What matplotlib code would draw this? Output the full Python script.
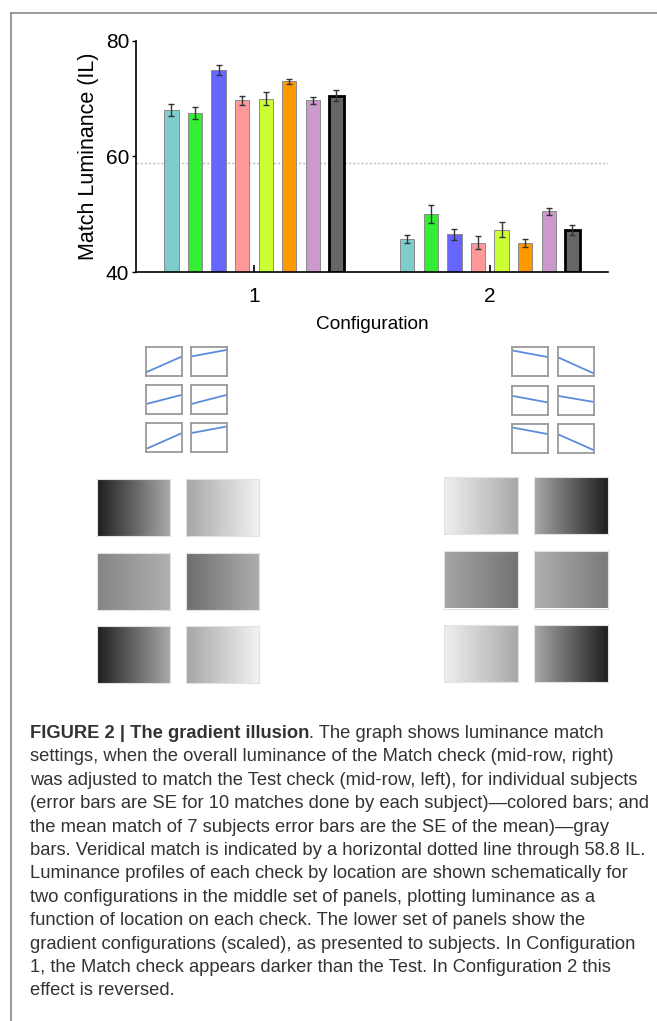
import numpy as np
import matplotlib
matplotlib.use("Agg")
import matplotlib.pyplot as plt
from matplotlib.lines import Line2D

plt.rcParams["font.family"] = ["Liberation Sans", "DejaVu Sans"]

# ---------- data ----------
groups = ["1", "2"]
bar_colors = ["#7ecccc", "#33ee33", "#6666ff", "#ff9999",
              "#ccff33", "#ff9900", "#cc99cc", "#666666"]
cfg1_vals = [68.0, 67.5, 74.9, 69.7, 70.0, 73.0, 69.7, 70.5]
cfg1_err = [1.1, 1.0, 0.9, 0.75, 1.05, 0.45, 0.6, 0.9]
cfg2_vals = [45.7, 50.0, 46.5, 45.1, 47.3, 45.0, 50.5, 47.3]
cfg2_err = [0.7, 1.6, 1.0, 1.1, 1.3, 0.75, 0.6, 0.9]
veridical = 58.8
y_ticks = [40, 60, 80]

# luminance profile (start, end) per check, rows x [left, right]
prof_cfg1 = [[(0.11, 0.66), (0.66, 0.89)],
             [(0.34, 0.66), (0.34, 0.66)],
             [(0.11, 0.66), (0.66, 0.89)]]
prof_cfg2 = [[(0.89, 0.66), (0.66, 0.10)],
             [(0.65, 0.42), (0.65, 0.44)],
             [(0.89, 0.66), (0.66, 0.11)]]

# gray level at left / right edge of each check image
grad_cfg1 = [[(0.12, 0.66), (0.65, 0.95)],
             [(0.52, 0.69), (0.43, 0.68)],
             [(0.12, 0.66), (0.65, 0.95)]]
grad_cfg2 = [[(0.94, 0.66), (0.66, 0.12)],
             [(0.65, 0.45), (0.69, 0.48)],
             [(0.94, 0.66), (0.66, 0.12)]]

caption_bold = "FIGURE 2 | The gradient illusion"
caption_lines = [
    ". The graph shows luminance match",
    "settings, when the overall luminance of the Match check (mid-row, right)",
    "was adjusted to match the Test check (mid-row, left), for individual subjects",
    "(error bars are SE for 10 matches done by each subject)\u2014colored bars; and",
    "the mean match of 7 subjects error bars are the SE of the mean)\u2014gray",
    "bars. Veridical match is indicated by a horizontal dotted line through 58.8 IL.",
    "Luminance profiles of each check by location are shown schematically for",
    "two configurations in the middle set of panels, plotting luminance as a",
    "function of location on each check. The lower set of panels show the",
    "gradient configurations (scaled), as presented to subjects. In Configuration",
    "1, the Match check appears darker than the Test. In Configuration 2 this",
    "effect is reversed.",
]

W, H = 657, 1021
fig = plt.figure(figsize=(W / 100, H / 100), dpi=100)


def px_axes(x0, y0, w, h):
    """axes from pixel box (top-left origin)"""
    return fig.add_axes([x0 / W, 1 - (y0 + h) / H, w / W, h / H])


# ---------- frame ----------
fig.add_artist(Line2D([11 / W, 1], [1 - 13 / H, 1 - 13 / H], color="#888888", lw=1.2))
fig.add_artist(Line2D([11 / W, 11 / W], [0, 1 - 13 / H], color="#888888", lw=1.2))

# ---------- bar chart ----------
ax = px_axes(136, 40.7, 471.7, 231.3)
offsets = np.arange(8) - 3.5
centers = [0, 10]
for c, vals, errs in zip(centers, [cfg1_vals, cfg2_vals], [cfg1_err, cfg2_err]):
    for k, (v, e, col) in enumerate(zip(vals, errs, bar_colors)):
        mean_bar = k == len(vals) - 1
        ax.bar(c + offsets[k], v - 40, bottom=40, width=0.61, color=col,
               edgecolor="black" if mean_bar else "#8a8a8a",
               linewidth=2.0 if mean_bar else 0.7, zorder=2)
        ax.errorbar(c + offsets[k], v, yerr=e, fmt="none", ecolor="#333333",
                    elinewidth=1.0, capsize=2.5, capthick=1.0, zorder=3)
ax.axhline(veridical, color="#bbbbbb", ls=(0, (1.5, 1.5)), lw=1.0, zorder=1)
ax.set_xlim(-5, 15)
ax.set_ylim(40, 80)
ax.set_yticks(y_ticks)
ax.set_xticks(centers)
ax.set_xticklabels(groups)
ax.tick_params(axis="x", direction="in", length=5, width=1.2, labelsize=15, pad=11)
ax.tick_params(axis="y", direction="out", length=3, width=1.0, labelsize=15, pad=2)
for s in ["top", "right"]:
    ax.spines[s].set_visible(False)
ax.spines["left"].set_linewidth(1.2)
ax.spines["bottom"].set_linewidth(1.2)
ax.set_ylabel("Match Luminance (IL)", fontsize=15.5, labelpad=5)
ax.set_xlabel("Configuration", fontsize=13.7, labelpad=7)

# ---------- profile boxes ----------
prof_sets = [
    (prof_cfg1, [145.7, 190.7], [346.7, 385.0, 423.3]),
    (prof_cfg2, [512.3, 557.7], [347.3, 385.7, 424.3]),
]
for prof, xs, ys in prof_sets:
    for r, y0 in enumerate(ys):
        for cc, x0 in enumerate(xs):
            a = px_axes(x0, y0, 36, 29)
            a.plot([0, 1], prof[r][cc], color="#5b8ed8", lw=1.3)
            a.set_xlim(0, 1)
            a.set_ylim(0, 1)
            a.set_xticks([])
            a.set_yticks([])
            for sp in a.spines.values():
                sp.set_color("#9a9a9a")
                sp.set_linewidth(1.3)

# ---------- gradient checks ----------
grad_sets = [
    (grad_cfg1, [96.7, 186.0], [479.3, 552.7, 625.7], 73, 57),
    (grad_cfg2, [444.0, 534.3], [476.7, 551.0, 625.0], 74, 57.5),
]
for grad, xs, ys, gw, gh in grad_sets:
    for r, y0 in enumerate(ys):
        for cc, x0 in enumerate(xs):
            a = px_axes(x0, y0, gw, gh)
            lo, hi = grad[r][cc]
            img = np.tile(np.linspace(lo, hi, 256), (8, 1))
            a.imshow(img, cmap="gray", vmin=0, vmax=1, aspect="auto",
                     interpolation="bilinear")
            a.set_xticks([])
            a.set_yticks([])
            for sp in a.spines.values():
                sp.set_color("#e2e2e2")
                sp.set_linewidth(0.8)

# ---------- caption ----------
cap_x = 30 / W
line0 = 738
step = 23.4
cap_size = 13.2
tb = fig.text(cap_x, 1 - line0 / H, caption_bold, fontsize=cap_size,
              fontweight="bold", color="#333333", va="baseline")
bb = tb.get_window_extent(renderer=fig.canvas.get_renderer())
fig.text(bb.x1 / W, 1 - line0 / H, caption_lines[0], fontsize=cap_size,
         color="#333333", va="baseline")
for i, line in enumerate(caption_lines[1:], start=1):
    fig.text(cap_x, 1 - (line0 + i * step) / H, line, fontsize=cap_size,
             color="#333333", va="baseline")

fig.savefig("out.png", dpi=100)
